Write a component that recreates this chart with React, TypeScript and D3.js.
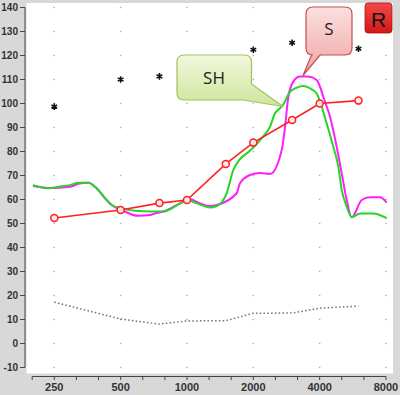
import * as d3 from 'd3'

// frequencies (Hz) and levels (dB)
const octaves = [250, 500, 1000, 2000, 4000, 8000]
const levels = [-10, 0, 10, 20, 30, 40, 50, 60, 70, 80, 90, 100, 110, 120, 130, 140]

const redFreq = [250, 500, 750, 1000, 1500, 2000, 3000, 4000, 6000]
const redDb = [52.3, 55.6, 58.5, 59.8, 74.8, 83.7, 93.1, 100, 101.2]

const starFreq = [250, 500, 750, 2000, 3000, 6000]
const starDb = [98.7, 110, 111.3, 122.4, 125.3, 122.8]

const floorFreq = [250, 500, 750, 1000, 1500, 2000, 3000, 4000, 6000]
const floorDb = [17.2, 10.2, 8.1, 9.4, 9.5, 12.6, 12.7, 14.7, 15.6]

const shFreq = [200, 235, 261, 295, 321, 357, 389, 425, 455, 506, 581, 680, 781, 930, 997, 1107, 1272, 1364, 1514, 1623, 1740, 1931, 2213, 2381, 2508, 2643, 2727, 2934, 3091, 3360, 3681, 3878, 4086, 4305, 4613, 4861, 5036, 5307, 5591, 6098, 7007, 8061]
const shDb = [66.0, 64.7, 65.3, 66.0, 67.0, 67.0, 64.7, 60.5, 57.7, 56.3, 55.3, 55.0, 55.0, 58.4, 59.8, 58.4, 56.7, 57.3, 62.6, 72.3, 76.8, 80.3, 86.2, 90.3, 95.9, 98.0, 99.4, 104.9, 106.3, 107.3, 105.9, 104.2, 98.7, 91.7, 82.0, 73.7, 64.0, 57.0, 52.6, 54.2, 54.2, 52.2]

const sFreq = [200, 235, 295, 321, 357, 389, 425, 455, 506, 601, 680, 716, 781, 930, 1032, 1146, 1272, 1364, 1681, 1740, 1931, 2143, 2381, 2691, 2786, 2884, 3037, 3257, 3542, 3878, 4014, 4155, 4456, 4779, 5036, 5307, 5591, 6207, 6768, 7515, 8061]
const sDb = [65.6, 64.8, 65.3, 66.5, 67.0, 64.7, 60.5, 57.7, 55.6, 53.2, 53.5, 54.2, 55.0, 58.4, 60.1, 58.4, 57.3, 57.7, 62.6, 66.8, 70.2, 71.0, 70.6, 80.6, 90.3, 102.8, 109.1, 111.2, 111.2, 109.8, 107.0, 102.8, 94.5, 82.0, 70.9, 59.8, 52.6, 59.8, 60.9, 60.9, 58.7]

const minorTicks = d3.range(-1, 16).map(i => 250 * Math.pow(2, i / 3))

export default function App() {
  const x = d3.scaleLog().base(2).domain([250, 8000]).range([54.3, 386])
  const y = d3.scaleLinear().domain([-10, 140]).range([367.5, 7.5])

  const line = d3.line<[number, number]>()
    .x(d => x(d[0]))
    .y(d => y(d[1]))
  const smooth = d3.line<[number, number]>()
    .x(d => x(d[0]))
    .y(d => y(d[1]))
    .curve(d3.curveMonotoneX)

  const zip = (a: number[], b: number[]) => a.map((v, i) => [v, b[i]] as [number, number])
  const star = d3.symbol(d3.symbolAsterisk, 30)()
  const font = "'Liberation Sans', Arial, sans-serif"

  return (
    <svg width={400} height={395} style={{ position: 'absolute', left: 0, top: 0 }}>
      <defs>
        <linearGradient id="gGreen" x1="0" y1="0" x2="0" y2="1">
          <stop offset="0" stopColor="#f2f8dc" />
          <stop offset="1" stopColor="#cfe59c" />
        </linearGradient>
        <linearGradient id="gPink" x1="0" y1="0" x2="0" y2="1">
          <stop offset="0" stopColor="#fbe0e0" />
          <stop offset="1" stopColor="#f1a3a3" />
        </linearGradient>
        <linearGradient id="gRed" x1="0" y1="0" x2="0" y2="1">
          <stop offset="0" stopColor="#f44848" />
          <stop offset="1" stopColor="#d01818" />
        </linearGradient>
      </defs>
      <rect x={0} y={0} width={400} height={395} fill="#d8d8d8" />
      <rect x={26.5} y={3} width={366.5} height={370.5} fill="#ffffff" />

      {/* grid dots */}
      {octaves.map(f => levels.map(l => (
        <rect key={f + '_' + l} x={x(f) - 0.75} y={y(l) - 0.75} width={1.5} height={1.5} fill="#b4b4b4" />
      )))}

      {/* y axis */}
      <line x1={25} x2={25} y1={y(140)} y2={y(-10)} stroke="#444" strokeWidth={1} />
      {levels.map(l => (
        <g key={l}>
          <line x1={20} x2={25} y1={y(l)} y2={y(l)} stroke="#444" />
          <text x={18} y={y(l)} dy="0.35em" textAnchor="end" fontFamily={font} fontWeight="bold" fontSize={10} fill="#333">{l}</text>
        </g>
      ))}

      {/* x axis */}
      <line x1={x(minorTicks[0])} x2={x(8000)} y1={376.5} y2={376.5} stroke="#444" />
      {minorTicks.map((f, i) => (
        <line key={i} x1={x(f)} x2={x(f)} y1={376.5} y2={380} stroke="#444" />
      ))}
      {octaves.map(f => (
        <text key={f} x={x(f)} y={391} textAnchor="middle" fontFamily={font} fontWeight="bold" fontSize={11} fill="#333">{f}</text>
      ))}

      {/* noise floor */}
      <path d={line(zip(floorFreq, floorDb)) || ''} fill="none" stroke="#707070" strokeWidth={1.5} strokeDasharray="1.5,2.3" />

      {/* measured curves */}
      <path d={smooth(zip(sFreq, sDb)) || ''} fill="none" stroke="#ff1cff" strokeWidth={2} />
      <path d={smooth(zip(shFreq, shDb)) || ''} fill="none" stroke="#27d427" strokeWidth={2} />

      {/* target line */}
      <path d={line(zip(redFreq, redDb)) || ''} fill="none" stroke="#ff2020" strokeWidth={1.6} />
      {redFreq.map((f, i) => (
        <circle key={f} cx={x(f)} cy={y(redDb[i])} r={3.5} fill="#ffe8e8" stroke="#ff2020" strokeWidth={1.5} />
      ))}

      {/* stars */}
      {starFreq.map((f, i) => (
        <path key={f} d={star || ''} transform={`translate(${x(f)},${y(starDb[i])})`} fill="none" stroke="#111" strokeWidth={1.6} />
      ))}

      {/* SH callout */}
      <path d="M184,55 H244.5 Q251.5,55 251.5,62 V84 L283,106.5 L243,100 H184 Q177,100 177,93 V62 Q177,55 184,55 Z"
        fill="url(#gGreen)" stroke="#a3c15c" strokeWidth={1.2} />
      <text x={214} y={84} textAnchor="middle" fontFamily="'Open Sans', sans-serif" fontSize={17} fill="#222">SH</text>

      {/* S callout */}
      <path d="M313,7 H345 Q352,7 352,14 V48 Q352,55 345,55 H320 L303,75.5 L311.5,55 H313 Q306,55 306,48 V14 Q306,7 313,7 Z"
        fill="url(#gPink)" stroke="#c0504d" strokeWidth={1.2} />
      <text x={329} y={35} textAnchor="middle" fontFamily="'Open Sans', sans-serif" fontSize={17} fill="#222">S</text>

      {/* R badge */}
      <rect x={365} y={3} width={27} height={30} rx={3} fill="url(#gRed)" stroke="#b01010" strokeWidth={0.8} />
      <text x={378.5} y={26.5} textAnchor="middle" fontFamily={font} fontSize={21} fill="#111">R</text>
    </svg>
  )
}
